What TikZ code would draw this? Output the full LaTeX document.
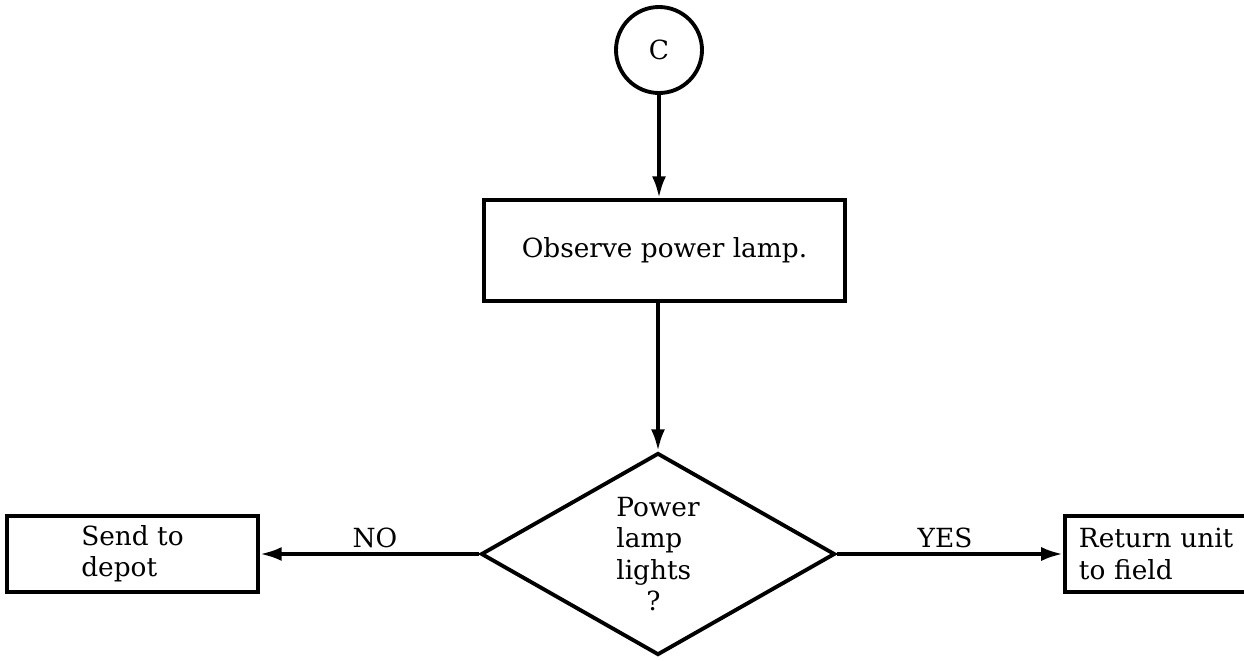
\documentclass[tikz,border=0pt]{standalone}
\usepackage{fontspec}
\setmainfont{DejaVu Serif}
\usetikzlibrary{arrows.meta,shapes.geometric,positioning}
\tikzset{
  ink/.style={line width=1.1pt,draw=black},
  txt/.style={font=\fontsize{7.5}{8.9}\selectfont},
  conn/.style={ink,txt,circle,minimum size=0.86cm,inner sep=0pt},
  stepbox/.style={ink,txt,rectangle,inner sep=0pt,align=left},
  decision/.style={ink,txt,diamond,aspect=1.75,minimum width=3.54cm,minimum height=2.02cm,inner sep=0pt,align=left},
  flow/.style={line width=1.1pt,-{Latex[length=6.2pt,width=4pt]}},
  answer/.style={txt}
}
\begin{document}
\begin{tikzpicture}[x=1cm,y=1cm]
\clip (0,0) rectangle (12.44,6.60);

% Entry connector and first step
\node[conn] (c) at (6.59,6.10) {C};
\node[stepbox,minimum width=3.61cm,minimum height=1.01cm] (observe) at (6.645,4.095) {Observe power lamp.};

% Decision
\node[decision] (lamp) at (6.58,1.06) {Power\\lamp\\lights\\\hspace*{0.3cm}?};

% Outcomes
\node[stepbox,minimum width=2.51cm,minimum height=0.76cm] (depot) at (1.325,1.06) {Send to\\\hspace*{0pt}depot\hspace*{0.1cm}};
\node[stepbox,minimum width=2.00cm,minimum height=0.76cm,anchor=west,text width=1.72cm] (field) at (10.63,1.06) {Return unit\\to field};

\draw[flow] (c) -- (c |- observe.north);
\draw[flow] (observe.south -| lamp.north) -- (lamp.north);
\draw[flow] (lamp.west) -- (depot.east);
\draw[flow] (lamp.east) -- (field.west);

\node[answer] (no) at (3.75,1.22) {NO};
\node[answer] (yes) at (9.45,1.22) {YES};

\end{tikzpicture}
\end{document}
